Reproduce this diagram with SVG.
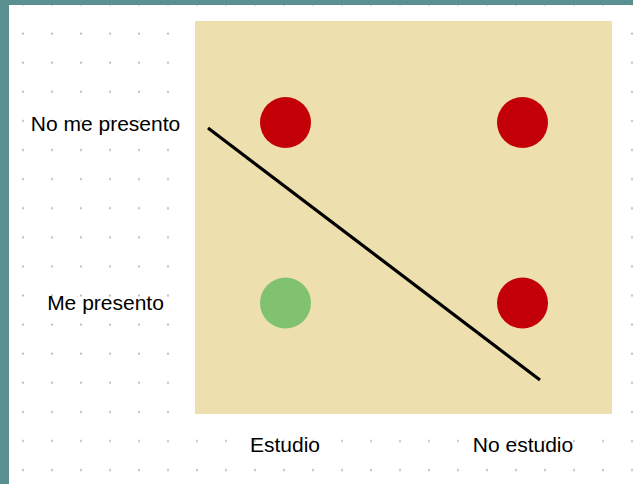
<svg xmlns="http://www.w3.org/2000/svg" width="633" height="484" viewBox="0 0 633 484">
<defs>
<style>
.lbl{font-family:"Liberation Sans",Arial,sans-serif;font-size:21px;fill:#000;text-anchor:middle}
.red{fill:#C30008}
.green{fill:#80C270}
</style>
<pattern id="dots" x="0" y="0" width="29" height="29.1" patternUnits="userSpaceOnUse">
<circle cx="23" cy="4.5" r="1.1" fill="#b8b8b8"/>
</pattern>
</defs>
<rect width="633" height="484" fill="#fff"/>
<rect width="633" height="484" fill="url(#dots)"/>
<rect x="0" y="0" width="633" height="5" fill="#5A9090"/>
<rect x="0" y="0" width="9" height="484" fill="#5A9090"/>
<rect id="plot" x="195" y="21" width="417" height="393" fill="#EEDFAE"/>
<g id="row-labels">
<text class="lbl" x="105.5" y="131">No me presento</text>
<text class="lbl" x="105.5" y="310">Me presento</text>
</g>
<g id="col-labels">
<text class="lbl" x="285" y="452">Estudio</text>
<text class="lbl" x="523" y="452">No estudio</text>
</g>
<g id="n1"><circle class="red" cx="285.5" cy="122.5" r="25.5"/></g>
<g id="n2"><circle class="red" cx="522.5" cy="122.5" r="25.5"/></g>
<g id="n3"><circle class="green" cx="285.5" cy="303" r="25.5"/></g>
<g id="n4"><circle class="red" cx="522.5" cy="303" r="25.5"/></g>
<g id="connectors">
<line x1="208" y1="128" x2="540" y2="380" stroke="#000" stroke-width="3.2"/>
</g>
</svg>
